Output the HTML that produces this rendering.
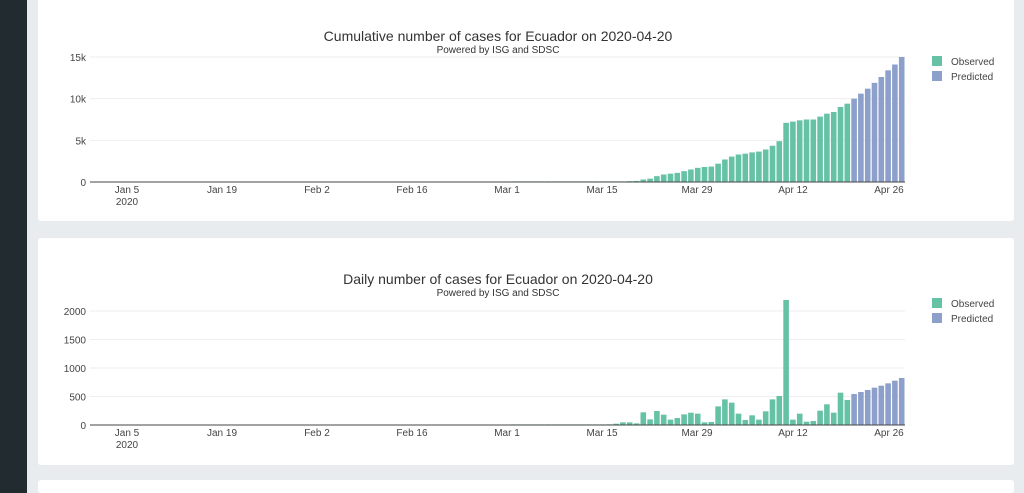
<!DOCTYPE html>
<html style="width:1024px;height:493px;overflow:hidden"><head><meta charset="utf-8"><style>
body{margin:0;width:1024px;height:493px;overflow:hidden;background:#e9ecef;font-family:"Liberation Sans",sans-serif;position:relative}
.side{position:absolute;left:0;top:0;width:27px;height:493px;background:#222b30}
.card{position:absolute;left:38px;width:976px;background:#fff;border-radius:3px}
svg{position:absolute;left:0;top:0}
</style></head><body>
<div class="side"></div>
<div class="card" style="top:-4px;height:225px"></div>
<div class="card" style="top:238px;height:227px"></div>
<div class="card" style="top:480px;height:13px"></div>
<svg id="s" width="1024" height="493" font-family="Liberation Sans, sans-serif"></svg>
<script>
var cum=[15000,14100,13400,12600,11900,11200,10600,10000,9400,9000,8400,8200,7850,7500,7500,7400,7250,7100,4900,4350,3900,3650,3550,3400,3300,3050,2700,2200,1850,1800,1700,1500,1300,1100,1000,900,700,400,300,130,100,60,30,20,15,10,7,5,3,2,1,1,1,1,1,1,1,1];
var daily=[825,778,731,690,655,614,579,544,439,567,216,363,251,70,58,199,94,2193,509,450,240,94,170,88,199,392,450,327,53,47,199,216,187,123,94,181,246,99,222,29,47,47,23,12,8,6,4,3,2,1,1,1,1,1,1,1,1,1];
var h='';
function chart(data,base,top,maxv,title,ty,ticks,labY){
 h+='<text x="498" y="'+ty+'" font-size="14" text-anchor="middle" fill="#333">'+title+'</text>';
 h+='<text x="498" y="'+(ty+12)+'" font-size="10" text-anchor="middle" fill="#333">Powered by ISG and SDSC</text>';
 ticks.forEach(function(t){var y=base-(base-top)*t[0]/maxv;
  if(t[0]>0)h+='<line x1="90" x2="905" y1="'+y+'" y2="'+y+'" stroke="#eee"/>';
  h+='<text x="86" y="'+(y+4)+'" font-size="10" text-anchor="end" fill="#444">'+t[1]+'</text>';});
 data.forEach(function(v,k){var c=901.7-6.8*k,bh=Math.max((base-top)*v/maxv,0.6);
  h+='<rect x="'+(c-2.8)+'" y="'+(base-bh)+'" width="5.6" height="'+bh+'" fill="'+(k<8?'#8da0cb':'#66c2a5')+'"/>';});
 h+='<line x1="90" x2="905" y1="'+base+'" y2="'+base+'" stroke="#444" stroke-width="1"/>';
 [['Jan 5',127],['Jan 19',222],['Feb 2',317],['Feb 16',412],['Mar 1',507],['Mar 15',602],['Mar 29',697],['Apr 12',793],['Apr 26',889]].forEach(function(l){
  h+='<text x="'+l[1]+'" y="'+(base+11)+'" font-size="10" text-anchor="middle" fill="#444">'+l[0]+'</text>';});
 h+='<text x="127" y="'+(base+23)+'" font-size="10" text-anchor="middle" fill="#444">2020</text>';
 h+='<rect x="932" y="'+(labY-5)+'" width="10" height="10" fill="#66c2a5"/><text x="951" y="'+(labY+4)+'" font-size="10" fill="#444">Observed</text>';
 h+='<rect x="932" y="'+(labY+10)+'" width="10" height="10" fill="#8da0cb"/><text x="951" y="'+(labY+19)+'" font-size="10" fill="#444">Predicted</text>';
}
chart(cum,182,57,15000,'Cumulative number of cases for Ecuador on 2020-04-20',41,[[0,'0'],[5000,'5k'],[10000,'10k'],[15000,'15k']],61);
chart(daily,425,311,2000,'Daily number of cases for Ecuador on 2020-04-20',284,[[0,'0'],[500,'500'],[1000,'1000'],[1500,'1500'],[2000,'2000']],303);
document.getElementById('s').innerHTML=h;
</script>
</body></html>
